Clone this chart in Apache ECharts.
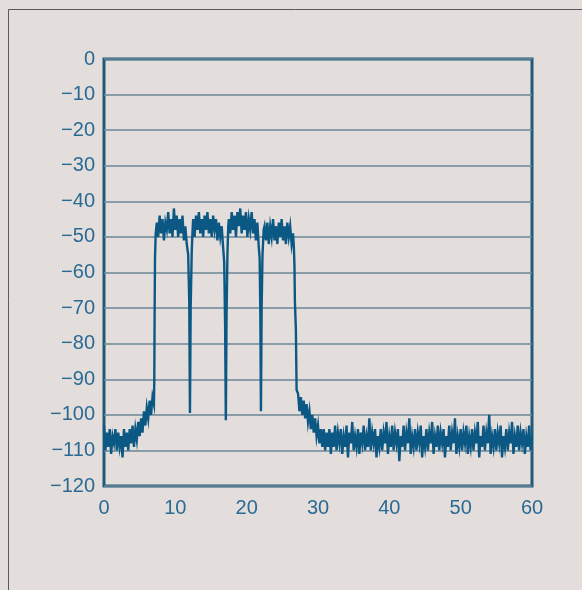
<!DOCTYPE html>
<html>
<head>
<meta charset="utf-8">
<script src="https://cdn.jsdelivr.net/npm/echarts@6/dist/echarts.min.js"></script>
<style>
html,body{margin:0;padding:0;background:#e3dedb;}
#chart{width:582px;height:590px;}
</style>
</head>
<body>
<div id="chart"></div>
<script>
// Axis ticks
const xTicks = [0, 10, 20, 30, 40, 50, 60];
const yTicks = [0, -10, -20, -30, -40, -50, -60, -70, -80, -90, -100, -110, -120];

// Noise trace segments, sampled every 0.2 (frequency units) from their start
const sampleStep = 0.2;
const floorLeftStart = 0.0;
const floorLeft = [-103,-110,-105,-109,-104,-111,-106,-108,-104,-110,-105,-109,-106,-112,-104,-109,-105,-110,-104,-108,-103,-109,-104,-107,-102,-106,-101,-105,-99,-103,-98,-101,-96,-100,-95];
const carrier1Start = 7.4;
const carrier1 = [-46,-50,-44,-49,-45,-51,-46,-48,-43,-49,-45,-50,-42,-48,-44,-50,-45,-49,-44,-51,-47,-52];
const carrier2Start = 12.5;
const carrier2 = [-45,-50,-44,-48,-43,-49,-45,-50,-44,-48,-43,-49,-45,-50,-44,-48,-45,-51,-46,-50,-47,-53];
const carrier3Start = 17.5;
const carrier3 = [-45,-49,-43,-48,-44,-50,-43,-47,-42,-49,-44,-48,-43,-50,-45,-48,-43,-49,-45,-51,-46,-53];
const carrier4Start = 22.5;
const carrier4 = [-47,-51,-46,-52,-47,-50,-45,-51,-47,-52,-46,-50,-45,-51,-47,-52,-46,-50,-47,-52,-49];
const floorRightStart = 27.2;
const floorRight = [-94,-99,-95,-100,-96,-101,-97,-102,-99,-104,-100,-105,-101,-106,-103,-108,-104,-109,-104,-110,-105,-109,-104,-111,-105,
-109,-103,-110,-105,-108,-104,-111,-106,-109,-103,-112,-105,-108,-102,-110,-106,-109,-104,-111,-105,-108,-103,-110,-106,-109,-101,-110,-105,-108,-104,-112,-106,-109,-104,-110,-105,-108,-102,-111,-106,-109,-103,-110,-105,-108,-104,-113,-106,-109,-103,-110,-105,-108,-101,-111,-106,-109,-104,-110,-105,-108,-103,-112,-106,-109,-104,-110,-105,-108,-102,-111,-106,-109,-103,-110,-105,-108,-104,-112,-106,-109,-103,-110,-105,-108,-101,-111,-106,-109,-104,-110,-105,-108,-103,-111,-106,-109,-104,-110,-105,-108,-102,-112,-106,-109,-103,-110,-105,-108,-100,-111,-106,-109,-104,-110,-105,-108,-103,-112,-106,-109,-104,-110,-105,-108,-102,-111,-106,-109,-103,-110,-105,-108,-104,-111,-106,-109,-103,-110,-106];

// Edges and notches (irregular frequencies)
const edgeFreq  = [7.0, 7.05, 7.1, 7.15, 7.25, 11.8, 11.95, 12.05, 12.15, 12.3, 12.42, 16.85, 16.98, 17.08, 17.18, 17.3, 17.42, 21.82, 21.92, 22.0, 22.1, 22.22, 22.38, 26.62, 26.7, 26.76, 26.9, 27.0];
const edgeLevel = [-97, -90, -70, -56, -49, -55, -68, -99.5, -70, -54, -48, -57, -75, -101.5, -72, -55, -47, -56, -72, -99, -70, -55, -48, -53, -58, -68, -76, -93];

function seg(start, vals) { return vals.map((v, i) => [+(start + i * sampleStep).toFixed(3), v]); }
let pts = [].concat(
  seg(floorLeftStart, floorLeft), seg(carrier1Start, carrier1), seg(carrier2Start, carrier2),
  seg(carrier3Start, carrier3), seg(carrier4Start, carrier4), seg(floorRightStart, floorRight),
  edgeFreq.map((f, i) => [f, edgeLevel[i]])
);
pts.sort((a, b) => a[0] - b[0]);

const labelColor = '#2b6a94';
const chart = echarts.init(document.getElementById('chart'), null, {renderer: 'canvas'});
chart.setOption({
  backgroundColor: '#e3dedb',
  animation: false,
  graphic: [
    {type: 'line', shape: {x1: 8.5, y1: 9.5, x2: 582, y2: 9.5}, style: {stroke: '#5a5a5a', lineWidth: 1}},
    {type: 'line', shape: {x1: 8.5, y1: 9.5, x2: 8.5, y2: 590}, style: {stroke: '#5a5a5a', lineWidth: 1}}
  ],
  grid: {left: 104, right: 50, top: 59, bottom: 104, show: true, borderColor: '#1f5a7a', borderWidth: 3, backgroundColor: 'transparent'},
  xAxis: {
    type: 'value', min: xTicks[0], max: xTicks[xTicks.length - 1], interval: 10,
    axisLine: {show: false}, axisTick: {show: false}, splitLine: {show: false},
    axisLabel: {color: labelColor, fontSize: 20, fontFamily: 'Liberation Sans, Arial', margin: 12}
  },
  yAxis: {
    type: 'value', min: yTicks[yTicks.length - 1], max: yTicks[0], interval: 10,
    axisLine: {show: false}, axisTick: {show: false},
    splitLine: {show: true, lineStyle: {color: '#6b8799', width: 1.6}},
    axisLabel: {color: labelColor, fontSize: 20, fontFamily: 'Liberation Sans, Arial', margin: 9,
      formatter: v => String(v).replace('-', '\u2212')}
  },
  series: [{
    type: 'line', data: pts, showSymbol: false, symbol: 'none', smooth: false,
    lineStyle: {color: '#0c5884', width: 2.4, join: 'miter'}
  }]
});
</script>
</body>
</html>
